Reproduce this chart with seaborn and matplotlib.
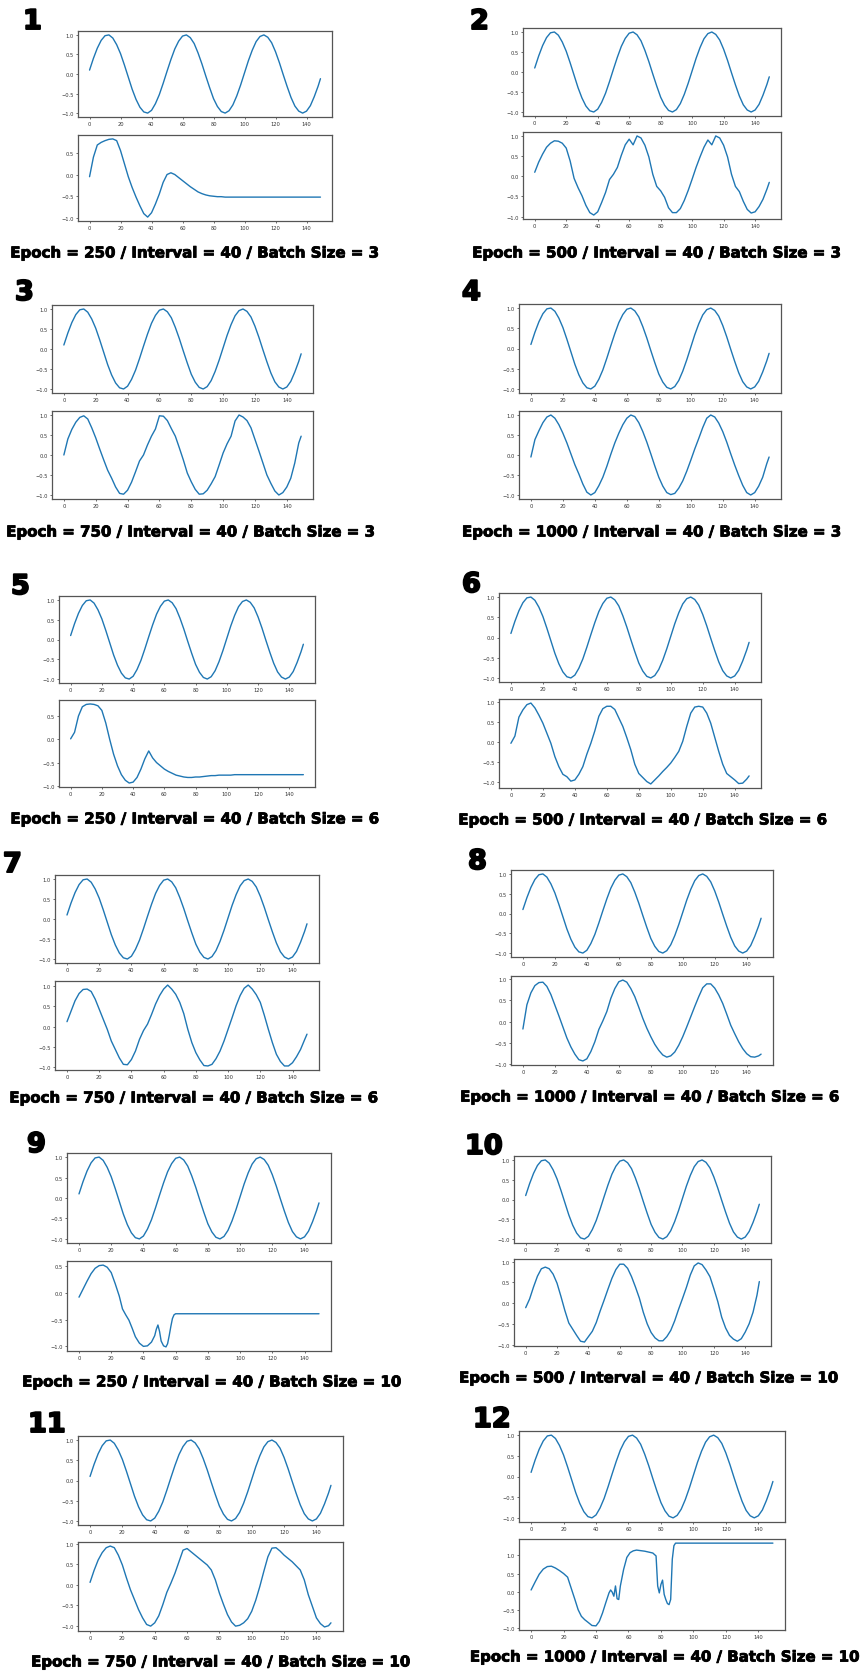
import numpy as np
import matplotlib
matplotlib.use("Agg")
import matplotlib.pyplot as plt
import matplotlib.patheffects as pe
import seaborn as sns
from matplotlib.ticker import MultipleLocator

# ---------------------------------------------------------------- data
# common time grid (step 2.5, plus the last sample at 149)
GRID = np.append(np.arange(0, 150, 2.5), 149)

# target sine signal, identical in every experiment
SINE_REF = [0.10, 0.40, 0.66, 0.86, 0.98, 1.00, 0.92, 0.75, 0.52, 0.23,
            -0.08, -0.39, -0.65, -0.85, -0.97, -1.00, -0.93, -0.76, -0.53, -0.24,
            0.07, 0.37, 0.64, 0.84, 0.97, 1.00, 0.93, 0.78, 0.54, 0.26,
            -0.05, -0.35, -0.63, -0.83, -0.96, -1.00, -0.94, -0.79, -0.56, -0.28,
            0.03, 0.34, 0.61, 0.83, 0.96, 1.00, 0.94, 0.80, 0.57, 0.29,
            -0.02, -0.32, -0.60, -0.82, -0.95, -1.00, -0.95, -0.81, -0.58, -0.31,
            -0.12]

# model predictions, one per experiment
X_1 = np.append(np.arange(0, 92.5, 2.5), 149)
PRED_1 = [-0.05, 0.40, 0.68, 0.74, 0.78, 0.81, 0.82, 0.78, 0.55, 0.25,
          -0.05, -0.30, -0.52, -0.72, -0.90, -0.98, -0.88, -0.68, -0.45, -0.18,
          0.00, 0.04, 0.00, -0.07, -0.14, -0.21, -0.28, -0.34, -0.40, -0.44,
          -0.47, -0.49, -0.50, -0.51, -0.51, -0.52, -0.52,
          -0.52]

PRED_2 = [0.10, 0.35, 0.55, 0.72, 0.82, 0.88, 0.87, 0.82, 0.70, 0.38,
          -0.05, -0.28, -0.48, -0.72, -0.90, -0.96, -0.88, -0.65, -0.40, -0.08,
          0.05, 0.22, 0.52, 0.78, 0.92, 0.78, 1.00, 0.95, 0.77, 0.48,
          0.05, -0.25, -0.36, -0.52, -0.78, -0.90, -0.90, -0.80, -0.60, -0.35,
          -0.07, 0.22, 0.48, 0.72, 0.90, 0.78, 1.00, 0.95, 0.77, 0.48,
          0.05, -0.25, -0.38, -0.62, -0.82, -0.91, -0.88, -0.75, -0.57, -0.32,
          -0.15]

PRED_3 = [0.00, 0.40, 0.64, 0.82, 0.94, 0.98, 0.90, 0.68, 0.43, 0.15,
          -0.12, -0.38, -0.58, -0.80, -0.96, -0.98, -0.88, -0.68, -0.42, -0.15,
          0.00, 0.25, 0.47, 0.65, 0.98, 0.97, 0.86, 0.66, 0.47, 0.18,
          -0.12, -0.45, -0.67, -0.86, -0.98, -0.97, -0.88, -0.72, -0.54, -0.25,
          0.05, 0.28, 0.47, 0.85, 1.00, 0.95, 0.86, 0.68, 0.39, 0.10,
          -0.20, -0.50, -0.71, -0.90, -1.00, -0.94, -0.80, -0.58, -0.20, 0.30,
          0.47]

PRED_4 = [-0.05, 0.38, 0.60, 0.80, 0.94, 0.99, 0.91, 0.75, 0.54, 0.30,
          0.03, -0.24, -0.47, -0.72, -0.92, -0.99, -0.93, -0.76, -0.55, -0.28,
          0.02, 0.30, 0.54, 0.75, 0.91, 0.99, 0.95, 0.80, 0.58, 0.32,
          0.03, -0.27, -0.55, -0.77, -0.93, -0.98, -0.95, -0.82, -0.64, -0.40,
          -0.13, 0.15, 0.41, 0.68, 0.91, 0.99, 0.94, 0.79, 0.58, 0.32,
          0.03, -0.25, -0.51, -0.75, -0.93, -0.99, -0.93, -0.77, -0.55, -0.22,
          -0.05]

X_5 = np.append(np.arange(0, 112.5, 2.5), 149)
PRED_5 = [0.01, 0.15, 0.50, 0.70, 0.75, 0.76, 0.75, 0.72, 0.62, 0.35,
          0.00, -0.32, -0.57, -0.76, -0.88, -0.94, -0.92, -0.82, -0.64, -0.42,
          -0.25, -0.40, -0.50, -0.57, -0.64, -0.69, -0.73, -0.77, -0.79, -0.81,
          -0.82, -0.82, -0.81, -0.81, -0.80, -0.79, -0.78, -0.78, -0.77, -0.77,
          -0.77, -0.77, -0.76, -0.76, -0.76,
          -0.76]

PRED_6 = [-0.03, 0.15, 0.62, 0.80, 0.93, 0.97, 0.85, 0.67, 0.47, 0.22,
          -0.03, -0.36, -0.61, -0.80, -0.86, -0.97, -0.94, -0.80, -0.61, -0.30,
          -0.03, 0.28, 0.64, 0.83, 0.89, 0.89, 0.81, 0.60, 0.39, 0.11,
          -0.19, -0.55, -0.78, -0.88, -0.98, -1.04, -0.94, -0.84, -0.73, -0.63,
          -0.52, -0.38, -0.23, 0.02, 0.39, 0.72, 0.87, 0.89, 0.87, 0.72,
          0.47, 0.12, -0.23, -0.55, -0.78, -0.86, -0.94, -1.03, -1.02, -0.92,
          -0.84]

PRED_7 = [0.12, 0.38, 0.64, 0.82, 0.92, 0.93, 0.87, 0.68, 0.43, 0.18,
          -0.07, -0.36, -0.57, -0.78, -0.94, -0.95, -0.82, -0.61, -0.32, -0.10,
          0.06, 0.30, 0.56, 0.77, 0.93, 1.03, 0.93, 0.80, 0.60, 0.32,
          -0.07, -0.40, -0.65, -0.83, -0.97, -0.98, -0.94, -0.80, -0.61, -0.36,
          -0.07, 0.22, 0.52, 0.77, 0.95, 1.03, 0.93, 0.79, 0.60, 0.28,
          -0.07, -0.40, -0.69, -0.87, -0.98, -0.98, -0.90, -0.75, -0.57, -0.33,
          -0.19]

PRED_8 = [-0.17, 0.40, 0.68, 0.85, 0.92, 0.93, 0.83, 0.64, 0.39, 0.14,
          -0.12, -0.38, -0.59, -0.76, -0.89, -0.92, -0.87, -0.70, -0.47, -0.18,
          0.02, 0.24, 0.55, 0.78, 0.94, 0.98, 0.93, 0.78, 0.59, 0.34,
          0.08, -0.15, -0.35, -0.53, -0.67, -0.78, -0.83, -0.80, -0.71, -0.55,
          -0.35, -0.12, 0.12, 0.36, 0.59, 0.80, 0.89, 0.89, 0.79, 0.63,
          0.43, 0.18, -0.08, -0.28, -0.47, -0.63, -0.75, -0.82, -0.83, -0.80,
          -0.76]

X_9 = [0, 2.5, 5, 7.5, 10, 12.5, 15, 17.5, 20, 22.5,
       25, 27, 29, 31, 33, 35, 37.5, 40, 42.5, 45,
       47, 48, 49, 50, 51, 52.5, 54, 55, 56, 57,
       58, 59, 60, 149]
PRED_9 = [-0.08, 0.07, 0.22, 0.36, 0.46, 0.51, 0.52, 0.48, 0.38, 0.17,
          -0.06, -0.30, -0.41, -0.51, -0.66, -0.82, -0.94, -1.00, -0.99, -0.92,
          -0.80, -0.68, -0.60, -0.72, -0.90, -0.99, -1.01, -0.95, -0.80, -0.63,
          -0.48, -0.41, -0.39, -0.39]

PRED_10 = [-0.11, 0.10, 0.39, 0.65, 0.83, 0.87, 0.83, 0.70, 0.48, 0.16,
           -0.18, -0.48, -0.63, -0.78, -0.92, -0.94, -0.81, -0.68, -0.47, -0.19,
           0.07, 0.34, 0.60, 0.81, 0.94, 0.94, 0.84, 0.64, 0.39, 0.12,
           -0.22, -0.50, -0.71, -0.84, -0.91, -0.91, -0.81, -0.66, -0.43, -0.15,
           0.11, 0.38, 0.68, 0.90, 0.97, 0.93, 0.80, 0.64, 0.35, 0.04,
           -0.34, -0.60, -0.78, -0.87, -0.92, -0.86, -0.70, -0.50, -0.22, 0.19,
           0.52]

PRED_11 = [0.06, 0.35, 0.60, 0.78, 0.90, 0.94, 0.90, 0.72, 0.48, 0.17,
           -0.12, -0.36, -0.60, -0.80, -0.96, -1.00, -0.92, -0.75, -0.48, -0.18,
           0.04, 0.28, 0.56, 0.84, 0.88, 0.80, 0.72, 0.64, 0.56, 0.48,
           0.36, 0.12, -0.20, -0.47, -0.72, -0.90, -1.00, -0.98, -0.92, -0.82,
           -0.64, -0.37, -0.04, 0.33, 0.68, 0.89, 0.90, 0.82, 0.72, 0.64,
           0.56, 0.46, 0.36, 0.12, -0.24, -0.52, -0.80, -0.94, -1.02, -0.99,
           -0.92]

X_12 = [0, 2.5, 5, 7.5, 10, 12.5, 15, 17.5, 20, 22.5,
        25, 27, 29, 31, 33, 35, 37.5, 40, 42, 44,
        46, 48, 49, 50, 51, 52, 53, 54, 55, 57,
        59, 61, 63, 65, 70, 75, 77, 78, 79, 80,
        81, 82, 83, 84, 85, 86, 87, 88, 89, 149]
PRED_12 = [0.05, 0.27, 0.48, 0.62, 0.69, 0.70, 0.65, 0.58, 0.50, 0.40,
           0.06, -0.21, -0.49, -0.67, -0.76, -0.83, -0.92, -0.93, -0.81, -0.58,
           -0.30, -0.03, 0.05, -0.01, -0.12, 0.16, -0.19, -0.21, 0.16, 0.61,
           0.94, 1.07, 1.12, 1.14, 1.11, 1.06, 0.98, 0.16, -0.03, 0.20,
           0.32, -0.07, -0.21, -0.32, -0.35, -0.21, 0.89, 1.26, 1.33, 1.33]

PRED_X = [X_1, GRID, GRID, GRID, X_5, GRID, GRID, GRID, X_9, GRID, GRID, X_12]
PRED_Y = [PRED_1, PRED_2, PRED_3, PRED_4, PRED_5, PRED_6,
          PRED_7, PRED_8, PRED_9, PRED_10, PRED_11, PRED_12]

EPOCHS = [250, 500, 750, 1000, 250, 500, 750, 1000, 250, 500, 750, 1000]
BATCH_SIZES = [3, 3, 3, 3, 6, 6, 6, 6, 10, 10, 10, 10]
INTERVAL = 40

# ---------------------------------------------------------------- layout (pixels)
# number label (x, y top), axes left/right, top axes top/bottom,
# bottom axes top/bottom, caption centre (x, y)
LAYOUT = [
    (23, 10, 78, 332, 32, 118, 136, 222, 195, 254),
    (470, 10, 523, 781, 29, 117, 133, 220, 657, 254),
    (15, 281, 52, 313, 306, 394, 412, 500, 191, 533),
    (462, 281, 519, 781, 305, 394, 412, 500, 652, 533),
    (11, 575, 59, 315, 597, 684, 701, 788, 195, 820),
    (462, 573, 499, 761, 594, 683, 700, 789, 643, 821),
    (3, 853, 55, 319, 876, 964, 982, 1071, 194, 1099),
    (468, 850, 511, 773, 871, 958, 977, 1066, 650, 1098),
    (27, 1133, 67, 331, 1154, 1244, 1262, 1352, 212, 1383),
    (465, 1135, 514, 771, 1157, 1244, 1260, 1347, 649, 1379),
    (28, 1413, 78, 343, 1437, 1526, 1543, 1632, 221, 1663),
    (473, 1408, 519, 785, 1432, 1523, 1540, 1631, 665, 1658),
]

W, H = 866, 1674
LINE_COLOR = "#1f77b4"
HEAVY = [pe.withStroke(linewidth=0.6, foreground="black")]

sns.set_style("white")
plt.rcParams["font.family"] = ["DejaVu Sans"]

fig = plt.figure(figsize=(W / 100, H / 100), dpi=100)


def axes_at(left, right, top, bottom):
    return fig.add_axes([left / W, 1 - bottom / H, (right - left) / W, (bottom - top) / H])


def style_axes(ax):
    ax.xaxis.set_major_locator(MultipleLocator(20))
    ax.yaxis.set_major_locator(MultipleLocator(0.5))
    ax.tick_params(bottom=True, left=True, labelsize=3.7, length=1.6, width=0.5,
                   pad=1.2, colors="#333333")
    for sp in ax.spines.values():
        sp.set_color("#555555")
        sp.set_linewidth(0.9)
    ax.set_xlabel("")
    ax.set_ylabel("")


for i, (nx, ny, al, ar, t1, b1, t2, b2, cx, cy) in enumerate(LAYOUT):
    ax_true = axes_at(al, ar, t1, b1)
    sns.lineplot(x=GRID, y=SINE_REF, ax=ax_true, color=LINE_COLOR,
                 linewidth=1.0, estimator=None, sort=False, legend=False)
    style_axes(ax_true)

    ax_pred = axes_at(al, ar, t2, b2)
    sns.lineplot(x=PRED_X[i], y=PRED_Y[i], ax=ax_pred, color=LINE_COLOR,
                 linewidth=1.0, estimator=None, sort=False, legend=False)
    style_axes(ax_pred)

    fig.text(nx / W, 1 - ny / H, str(i + 1), ha="left", va="top",
             fontsize=19.5, fontweight="bold", color="black",
             path_effects=[pe.withStroke(linewidth=1.4, foreground="black")])
    fig.text(cx / W, 1 - cy / H,
             f"Epoch = {EPOCHS[i]} / Interval = {INTERVAL} / Batch Size = {BATCH_SIZES[i]}",
             ha="center", va="center", fontsize=10.8, fontweight="bold", color="black",
             path_effects=HEAVY)

fig.savefig("out.png", dpi=100, facecolor="white")
